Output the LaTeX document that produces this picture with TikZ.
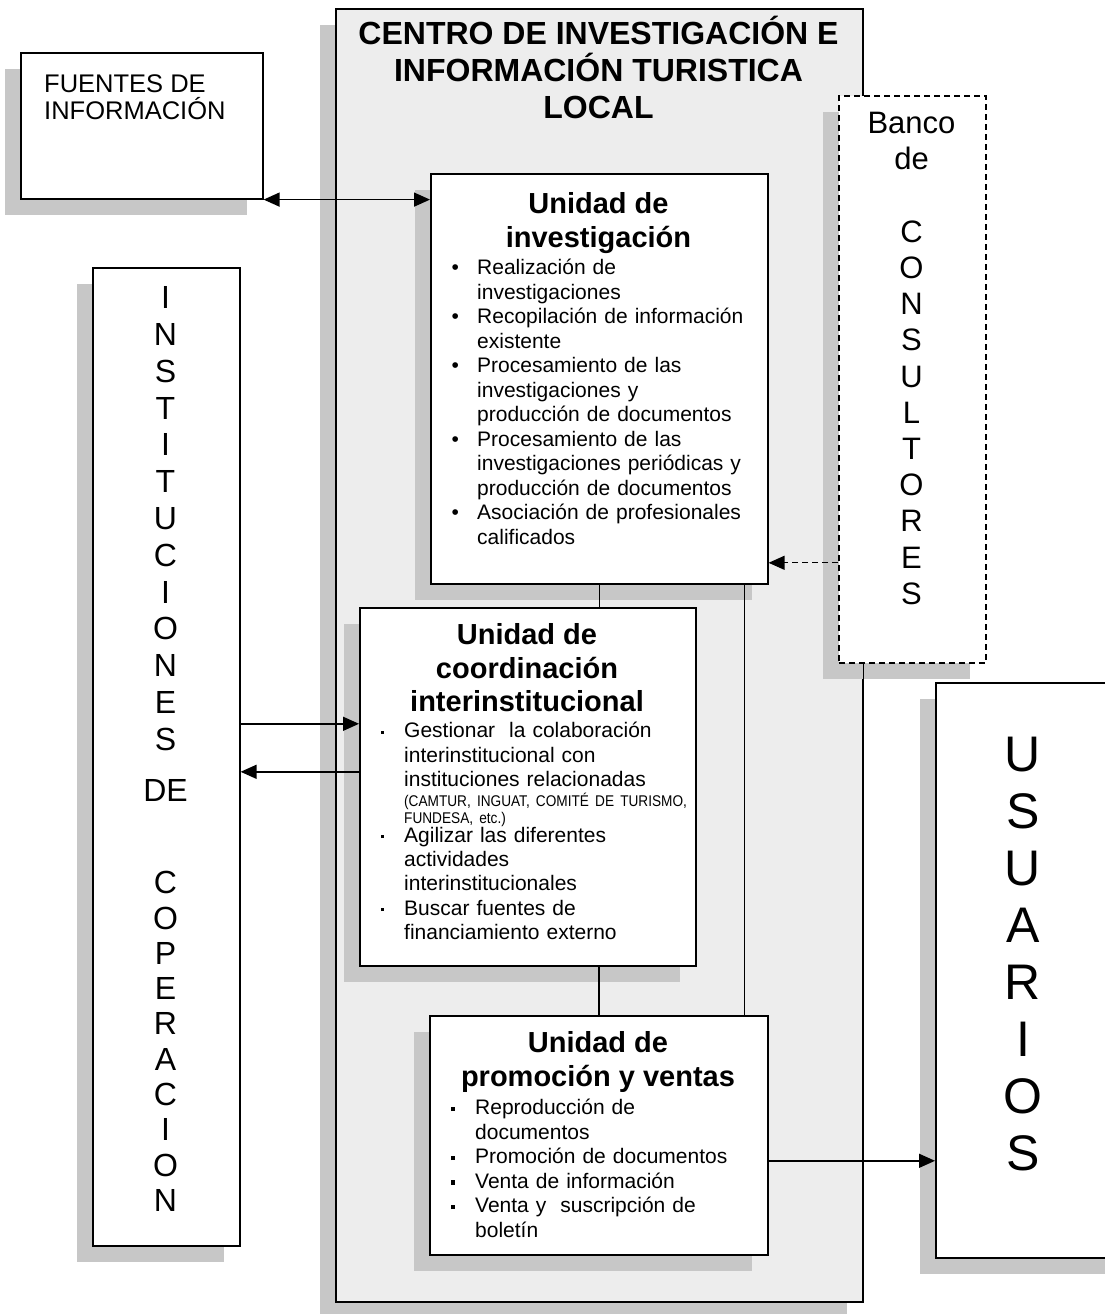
\documentclass[tikz,border=0pt]{standalone}
\usepackage{fontspec}
\usepackage{graphicx}
\setmainfont{Liberation Sans}
\usetikzlibrary{arrows.meta,shadows,calc}
\newcommand{\bR}{\leavevmode\llap{•\hspace{18.3pt}}}
\newcommand{\bS}{\leavevmode\llap{\rule[3.5pt]{4.5pt}{4.5pt}\hspace{19.75pt}}}
\newcommand{\bD}{\leavevmode\llap{\rule[4pt]{3pt}{3pt}\hspace{20.5pt}}}
\newcommand{\cnd}[1]{\scalebox{0.88}[1]{#1}}
\begin{document}
\begin{tikzpicture}[x=1pt,y=-1pt,
  >={Triangle[length=16pt,width=14pt]},
  box/.style={draw, line width=1.6pt, fill=white, rectangle, inner sep=0pt, anchor=north west,
    drop shadow={shadow xshift=-16pt, shadow yshift=-16pt, fill=black!22, opacity=1}},
  dbox/.style={box, dash pattern=on 6pt off 4pt},
  head/.style={font=\fontsize{29}{33.4}\selectfont\bfseries, align=center, inner sep=0pt, anchor=north},
  list/.style={font=\fontsize{21}{24.5}\selectfont, align=left, inner sep=0pt, anchor=north west},
  vert/.style={align=center, inner sep=0pt, anchor=north},
  conn/.style={line width=1.5pt}
]
\useasboundingbox (0,0) rectangle (1104,1314);
\fill[white] (0,0) rectangle (1104,1314);

% main centre
\node[box, fill=black!7, minimum width=527pt, minimum height=1293pt] (centro) at (335,8) {};
\node[font=\fontsize{32}{37}\selectfont\bfseries, align=center, inner sep=0pt, anchor=north] (title) at (598.5,13.5)
  {\rule{0pt}{31pt}CENTRO DE INVESTIGACIÓN E\\INFORMACIÓN TURISTICA\\LOCAL};

% boxes
\node[box, minimum width=242pt, minimum height=146pt] (fuentes) at (20,52) {};
\node[box, minimum width=337pt, minimum height=410pt] (inv) at (430,173) {};
\node[box, minimum width=336pt, minimum height=358pt] (coord) at (359,607) {};
\node[box, minimum width=338pt, minimum height=239pt] (promo) at (429,1015) {};
\node[dbox, minimum width=147pt, minimum height=567pt] (banco) at (838,95) {};
\draw[line width=1.6pt] (centro.north east |- banco.south) -- ++(0,18);
\node[box, minimum width=147pt, minimum height=978pt] (inst) at (92,267) {};
\node[box, minimum width=190pt, minimum height=575pt] (usu) at (935,682) {};

% texts
\node[font=\fontsize{25.5}{27.5}\selectfont, align=left, inner sep=0pt, anchor=north west] (fuentestxt) at (44,72)
  {\rule{0pt}{20pt}FUENTES DE\\INFORMACIÓN};

\node[head] (invh) at (598.5,189.4) {\rule{0pt}{24pt}Unidad de\\investigación};
\node[list, text width=290pt] (invl) at (477,256.5) {\rule{0pt}{18pt}%
\bR Realización de\\investigaciones\\
\bR Recopilación de información\\existente\\
\bR Procesamiento de las\\investigaciones y\\producción de documentos\\
\bR Procesamiento de las\\investigaciones periódicas y\\producción de documentos\\
\bR Asociación de profesionales\\calificados};

\node[head] (coordh) at (527,620.4) {\rule{0pt}{24pt}Unidad de\\coordinación\\interinstitucional};
\node[list, font=\fontsize{21}{24.3}\selectfont, text width=288pt] (coordl) at (404,719.5) {\rule{0pt}{18pt}%
\bD Gestionar\ \ la colaboración\\interinstitucional con\\instituciones relacionadas\par
\vspace{3pt}{\fontsize{15.5}{17}\selectfont \cnd{(CAMTUR, INGUAT, COMITÉ DE TURISMO,}\\\cnd{FUNDESA, etc.)}\par}
\vspace{-5.5pt}
\bD Agilizar las diferentes\\actividades\\interinstitucionales\\
\bD Buscar fuentes de\\financiamiento externo};

\node[head] (promoh) at (598,1028.4) {\rule{0pt}{24pt}Unidad de\\promoción y ventas};
\node[list, text width=290pt] (promol) at (475,1096.5) {\rule{0pt}{18pt}%
\bS Reproducción de\\documentos\\
\bS Promoción de documentos\\
\bS Venta de información\\
\bS Venta y\ \ suscripción de\\boletín};

\node[vert, font=\fontsize{31}{36.2}\selectfont] (bancotxt) at (911.5,109.5)
  {\rule{0pt}{24pt}Banco\\de\\[36.2pt]C\\O\\N\\S\\U\\L\\T\\O\\R\\E\\S};

\node[vert, font=\fontsize{32}{36.8}\selectfont] (insttxt) at (165.5,284.5)
  {\rule{0pt}{24pt}I\\N\\S\\T\\I\\T\\U\\C\\I\\O\\N\\E\\S\\[14.2pt]DE};
\node[vert, font=\fontsize{32}{35.3}\selectfont] (insttxt2) at (165.5,869.5)
  {\rule{0pt}{24pt}C\\O\\P\\E\\R\\A\\C\\I\\O\\N};

\node[vert, font=\fontsize{50}{57}\selectfont] (usutxt) at (1023,733)
  {\rule{0pt}{38pt}U\\S\\U\\A\\R\\I\\O\\S};

% connectors
\draw[conn, <->] (fuentes.south east) -- (fuentes.south east -| inv.west);
\draw[conn] (inv.south) -- (inv.south |- coord.north);
\draw[conn] (promo.north) -- (promo.north |- coord.south);
\coordinate (ir) at ($(inv.south east)+(-24,0)$);
\draw[conn] (ir) -- (ir |- promo.north);
\coordinate (i1) at ($(inst.east)+(0,-33)$);
\draw[conn, ->] (i1) -- (i1 -| coord.west);
\coordinate (i2) at ($(inst.east)+(0,15)$);
\draw[conn, ->] (i2 -| coord.west) -- (i2);
\coordinate (b1) at ($(banco.west)+(0,183.5)$);
\draw[conn, line width=1.3pt, dash pattern=on 6pt off 4pt, ->] (b1) -- (b1 -| inv.east);
\coordinate (p1) at ($(promo.east)+(0,25.5)$);
\draw[conn, ->] (p1) -- (p1 -| usu.west);
\end{tikzpicture}
\end{document}
